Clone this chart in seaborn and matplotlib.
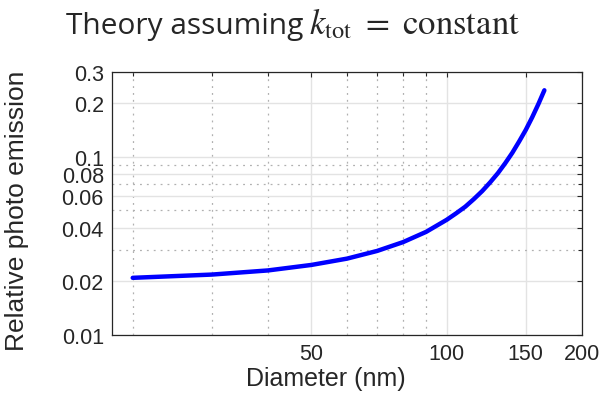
import matplotlib
matplotlib.use("Agg")
import matplotlib.pyplot as plt
import matplotlib.ticker as mticker
import seaborn as sns
import pandas as pd

# === DATA ===
diameter_nm = [20, 30, 40, 50, 60, 70, 80, 90, 100, 105, 110, 115, 120, 125,
               130, 135, 140, 145, 150, 155, 160, 165]
photo_emission = [0.0209, 0.0218, 0.0230, 0.0247, 0.0268, 0.0296, 0.0332, 0.0379,
                  0.0443, 0.0482, 0.0525, 0.0580, 0.0643, 0.0720, 0.0810, 0.0922,
                  0.1055, 0.1222, 0.1419, 0.1670, 0.1982, 0.2370]

x_major = [50, 100, 150, 200]
x_minor = [20, 30, 40, 60, 70, 80, 90]
y_major = [0.01, 0.02, 0.04, 0.06, 0.08, 0.1, 0.2, 0.3]
y_major_labels = ["0.01", "0.02", "0.04", "0.06", "0.08", "0.1", "0.2", "0.3"]
y_minor = [0.03, 0.05, 0.07, 0.09]

df = pd.DataFrame({"diameter": diameter_nm, "emission": photo_emission})

sns.set_style("white")
plt.rcParams["font.family"] = ["Liberation Sans", "DejaVu Sans"]
plt.rcParams["mathtext.fontset"] = "stix"

fig = plt.figure(figsize=(6.03, 4.06), dpi=100)
ax = fig.add_axes([0.186, 0.173, 0.779, 0.647])

sns.lineplot(data=df, x="diameter", y="emission", color=(0, 0, 1), lw=3.2, ax=ax)

ax.set_xscale("log")
ax.set_yscale("log")
ax.set_xlim(18, 200)
ax.set_ylim(0.01, 0.3)

ax.xaxis.set_major_locator(mticker.FixedLocator(x_major))
ax.xaxis.set_major_formatter(mticker.FixedFormatter([str(v) for v in x_major]))
ax.xaxis.set_minor_locator(mticker.FixedLocator(x_minor))
ax.xaxis.set_minor_formatter(mticker.NullFormatter())
ax.yaxis.set_major_locator(mticker.FixedLocator(y_major))
ax.yaxis.set_major_formatter(mticker.FixedFormatter(y_major_labels))
ax.yaxis.set_minor_locator(mticker.FixedLocator(y_minor))
ax.yaxis.set_minor_formatter(mticker.NullFormatter())

# MATLAB-like grid
ax.grid(True, which="major", color="#e3e3e3", lw=1.0, ls="-")
ax.grid(True, which="minor", color="#b0b0b0", lw=0.9, ls=(0, (1.5, 4)))
ax.set_axisbelow(True)

for s in ax.spines.values():
    s.set_color("#262626")
    s.set_linewidth(0.9)
ax.tick_params(which="both", direction="in", top=True, right=True,
               color="#262626", width=0.8, labelsize=15.5, labelcolor="#262626")
ax.tick_params(which="major", length=3.5, pad=6)
ax.tick_params(which="minor", length=3)

ax.set_xlabel("Diameter (nm)", fontsize=18, color="#262626")
ax.xaxis.set_label_coords(0.455, -0.12)
ax.set_ylabel("Relative photo emission", fontsize=19, color="#262626")
ax.yaxis.set_label_coords(-0.178, 0.475)

# title: sans part + serif math part (as in the Word-style equation)
fig.text(303 / 603, 1 - 34 / 406, "Theory assuming",
         ha="right", va="baseline", fontsize=21.5, family=["Open Sans", "DejaVu Sans"])
fig.text(309 / 603, 1 - 34 / 406, r"$k_{\mathrm{tot}}\ =\ \mathrm{constant}$",
         ha="left", va="baseline", fontsize=25)

fig.savefig("out.png", dpi=100)
